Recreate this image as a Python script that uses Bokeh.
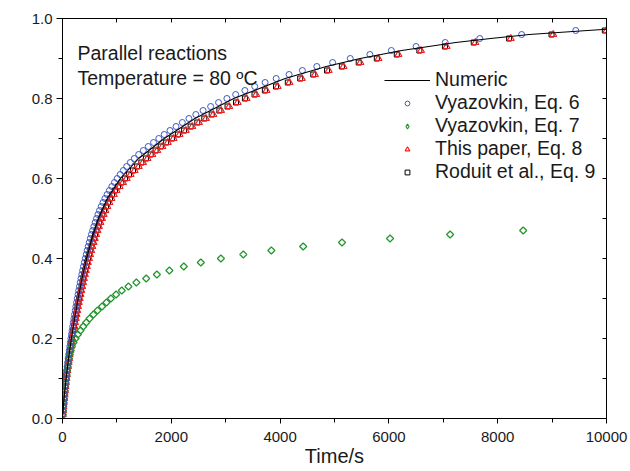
import math
import numpy as np
from bokeh.plotting import figure
from bokeh.models import (Range1d, LinearAxis, SingleIntervalTicker, NumeralTickFormatter,
                          CustomJSTickFormatter, Label, Legend, LegendItem, ColumnDataSource)
from bokeh.embed import file_html
from bokeh.resources import INLINE

# ---------------- data ----------------
alpha_levels = [0.01, 0.02, 0.03, 0.04, 0.05, 0.06, 0.07, 0.08, 0.09, 0.10,
                0.11, 0.12, 0.13, 0.14, 0.15, 0.16, 0.17, 0.18, 0.19, 0.20,
                0.21, 0.22, 0.23, 0.24, 0.25, 0.26, 0.27, 0.28, 0.29, 0.30,
                0.31, 0.32, 0.33, 0.34, 0.35, 0.36, 0.37, 0.38, 0.39, 0.40,
                0.41, 0.42, 0.43, 0.44, 0.45, 0.46, 0.47, 0.48, 0.49, 0.50,
                0.51, 0.52, 0.53, 0.54, 0.55, 0.56, 0.57, 0.58, 0.59, 0.60,
                0.61, 0.62, 0.63, 0.64, 0.65, 0.66, 0.67, 0.68, 0.69, 0.70,
                0.71, 0.72, 0.73, 0.74, 0.75, 0.76, 0.77, 0.78, 0.79, 0.80,
                0.81, 0.82, 0.83, 0.84, 0.85, 0.86, 0.87, 0.88, 0.89, 0.90,
                0.91, 0.92, 0.93, 0.94, 0.95, 0.96, 0.97]

alpha_eq7 = [0.01, 0.02, 0.03, 0.04, 0.05, 0.06, 0.07, 0.08, 0.09, 0.10,
             0.11, 0.12, 0.13, 0.14, 0.15, 0.16, 0.17, 0.18, 0.19, 0.20,
             0.21, 0.22, 0.23, 0.24, 0.25, 0.26, 0.27, 0.28, 0.29, 0.30,
             0.31, 0.32, 0.33, 0.34, 0.35, 0.36, 0.37, 0.38, 0.39, 0.40,
             0.41, 0.42, 0.43, 0.44, 0.45, 0.46, 0.47]

t_vyaz_eq6 = [5, 10, 15, 21, 27, 33, 40, 47, 54, 62,
              70, 78, 87, 96, 105, 114, 124, 134, 144, 154,
              165, 176, 187, 198, 210, 222, 234, 246, 259, 272,
              285, 298, 312, 326, 340, 355, 370, 386, 402, 419,
              436, 454, 472, 491, 511, 532, 554, 577, 601, 626,
              652, 681, 712, 745, 781, 820, 862, 907, 955, 1006,
              1060, 1118, 1180, 1247, 1320, 1400, 1486, 1577, 1674, 1770,
              1870, 1976, 2087, 2203, 2324, 2451, 2584, 2723, 2869, 3022,
              3183, 3353, 3533, 3724, 3928, 4165, 4410, 4675, 4965, 5290,
              5650, 6045, 6500, 7035, 7670, 8440, 9435]

t_vyaz_eq7 = [5, 10, 15, 21, 27, 34, 41, 48, 56, 66,
              75, 85, 96, 108, 121, 135, 152, 174, 203, 240,
              283, 331, 381, 437, 499, 568, 644, 727, 808, 890,
              985, 1090, 1212, 1358, 1538, 1735, 1965, 2230, 2543, 2912,
              3324, 3839, 4424, 5138, 6021, 7125, 8468]

t_paper_eq8 = [6, 12, 17, 24, 31, 38, 46, 55, 63, 72,
               81, 90, 101, 111, 122, 132, 144, 155, 167, 179,
               191, 204, 217, 230, 244, 258, 271, 285, 300, 316,
               331, 346, 362, 378, 394, 412, 429, 448, 466, 486,
               506, 527, 548, 570, 593, 617, 643, 669, 697, 726,
               756, 789, 824, 861, 900, 942, 993, 1050, 1112, 1180,
               1252, 1326, 1402, 1480, 1563, 1650, 1741, 1836, 1936, 2041,
               2151, 2266, 2385, 2508, 2637, 2772, 2914, 3064, 3220, 3383,
               3560, 3750, 3955, 4172, 4400, 4640, 4893, 5165, 5475, 5808,
               6175, 6590, 7060, 7590, 8240, 9020, 10000]

t_roduit_eq9 = [6, 12, 16, 23, 30, 37, 45, 53, 61, 70,
                79, 87, 98, 108, 118, 128, 140, 150, 162, 174,
                185, 198, 210, 223, 237, 250, 263, 276, 291, 307,
                321, 336, 351, 367, 382, 400, 416, 435, 452, 471,
                491, 511, 532, 553, 575, 598, 624, 649, 676, 704,
                733, 765, 799, 835, 873, 912, 963, 1020, 1082, 1150,
                1222, 1296, 1372, 1450, 1533, 1620, 1711, 1806, 1906, 2011,
                2121, 2236, 2355, 2478, 2607, 2742, 2884, 3034, 3190, 3353,
                3530, 3720, 3925, 4142, 4370, 4610, 4863, 5135, 5445, 5778,
                6145, 6560, 7030, 7560, 8210, 8990, 9970]

t_numeric = [0, 28, 66, 111, 163, 222, 288, 359, 443, 540, 661, 825, 1065, 1400,
             1870, 2434, 3148, 4093, 4847, 5471, 6236, 7229, 7870, 8580, 9650, 10000]
alpha_numeric = [0.0, 0.05, 0.10, 0.15, 0.20, 0.25, 0.30, 0.35, 0.40, 0.45, 0.50, 0.55,
                 0.60, 0.65, 0.70, 0.75, 0.80, 0.85, 0.88, 0.90, 0.92, 0.94, 0.95,
                 0.96, 0.97, 0.973]

legend_labels = ["Numeric", "Vyazovkin, Eq. 6", "Vyazovkin, Eq. 7",
                 "This paper, Eq. 8", "Roduit et al., Eq. 9"]
annot_lines = ["Parallel reactions", "Temperature = 80 \u00baC"]

# ---------------- style ----------------
FONT = "Liberation Sans"
BLUE = "#3b56c6"
GREEN = "#22962a"
RED = "#ec2020"
BLACK = "#000000"
TXT = "#1a1a1a"

p = figure(width=630, height=471, output_backend="svg", toolbar_location=None,
           x_range=Range1d(0, 10000), y_range=Range1d(0, 1.0),
           min_border_left=62, min_border_right=24, min_border_top=18,
           min_border_bottom=53)
p.grid.visible = False
p.outline_line_color = BLACK
p.outline_line_width = 1
p.background_fill_color = "white"
p.border_fill_color = "white"

# bottom axis
xa = p.xaxis[0]
xa.ticker = SingleIntervalTicker(interval=2000, num_minor_ticks=2)
xa.formatter = NumeralTickFormatter(format="0")
xa.axis_label = "Time/s"
xa.axis_label_text_font = FONT
xa.axis_label_text_font_size = "20px"
xa.axis_label_text_font_style = "normal"
xa.axis_label_text_color = TXT
xa.axis_label_standoff = 0
xa.major_label_text_font = FONT
xa.major_label_text_font_size = "15px"
xa.major_label_text_color = TXT
xa.major_label_standoff = 8
xa.major_tick_in = 0
xa.major_tick_out = 5
xa.minor_tick_in = 0
xa.minor_tick_out = 4
xa.axis_line_color = BLACK
xa.major_tick_line_color = BLACK
xa.minor_tick_line_color = BLACK

# left axis
ya = p.yaxis[0]
ya.ticker = SingleIntervalTicker(interval=0.2, num_minor_ticks=2)
ya.formatter = NumeralTickFormatter(format="0.0")
ya.major_label_text_font = FONT
ya.major_label_text_font_size = "15px"
ya.major_label_text_color = TXT
ya.major_label_standoff = 4
ya.major_tick_in = 0
ya.major_tick_out = 6
ya.minor_tick_in = 0
ya.minor_tick_out = 4
ya.axis_line_color = BLACK
ya.major_tick_line_color = BLACK
ya.minor_tick_line_color = BLACK

blank = CustomJSTickFormatter(code="return ''")
top = LinearAxis(ticker=SingleIntervalTicker(interval=1000, num_minor_ticks=0),
                 formatter=blank, major_tick_in=4, major_tick_out=0,
                 minor_tick_in=0, minor_tick_out=0, major_label_standoff=0,
                 axis_line_color=BLACK, major_tick_line_color=BLACK)
right = LinearAxis(ticker=SingleIntervalTicker(interval=0.1, num_minor_ticks=0),
                   formatter=blank, major_tick_in=4, major_tick_out=0,
                   minor_tick_in=0, minor_tick_out=0, major_label_standoff=0,
                   axis_line_color=BLACK, major_tick_line_color=BLACK)
p.add_layout(top, "above")
p.add_layout(right, "right")

# ---------------- glyphs ----------------
r_sq = p.scatter(t_roduit_eq9, alpha_levels, marker="square", size=5,
                 fill_color=None, line_color=BLACK, line_width=1)
r_tri = p.scatter(t_paper_eq8, alpha_levels, marker="triangle", size=7,
                  fill_color=None, line_color=RED, line_width=1.2)
r_dia = p.scatter(t_vyaz_eq7, alpha_eq7, marker="square", angle=math.pi / 4, size=5,
                  fill_color=None, line_color=GREEN, line_width=1.2)
r_cir = p.scatter(t_vyaz_eq6, alpha_levels, marker="circle", size=6,
                  fill_color=None, line_color=BLUE, line_width=1)
r_line = p.line(t_numeric, alpha_numeric, line_color=BLACK, line_width=1.1)

# legend proxies (no visible points)
def proxy():
    return ColumnDataSource(dict(x=np.array([np.nan]), y=np.array([np.nan])))

l_line = p.line(x="x", y="y", source=proxy(), line_color=BLACK, line_width=1.1)
l_cir = p.scatter(x="x", y="y", source=proxy(), marker="circle",
                  fill_color=None, line_color=BLUE, line_width=1)
l_dia = p.scatter(x="x", y="y", source=proxy(), marker="diamond",
                  fill_color=None, line_color=GREEN, line_width=1.1)
l_tri = p.scatter(x="x", y="y", source=proxy(), marker="triangle",
                  fill_color=None, line_color=RED, line_width=1.1)
l_sq = p.scatter(x="x", y="y", source=proxy(), marker="square",
                 fill_color=None, line_color=BLACK, line_width=1)

legend = Legend(items=[LegendItem(label=legend_labels[0], renderers=[l_line]),
                       LegendItem(label=legend_labels[1], renderers=[l_cir]),
                       LegendItem(label=legend_labels[2], renderers=[l_dia]),
                       LegendItem(label=legend_labels[3], renderers=[l_tri]),
                       LegendItem(label=legend_labels[4], renderers=[l_sq])],
                location=(322, 235), orientation="vertical",
                glyph_width=46, glyph_height=12, label_height=23, label_standoff=5,
                spacing=0, padding=0, margin=0,
                border_line_color=None, background_fill_alpha=0,
                label_text_font=FONT, label_text_font_size="19.5px",
                label_text_color=TXT, label_text_baseline="middle")
p.add_layout(legend, "center")

# annotation text
p.add_layout(Label(x=276, y=0.915, text=annot_lines[0], text_font=FONT,
                   text_font_size="19.5px", text_color=TXT, text_baseline="alphabetic"))
p.add_layout(Label(x=276, y=0.8525, text=annot_lines[1], text_font=FONT,
                   text_font_size="19.5px", text_color=TXT, text_baseline="alphabetic"))

# y axis title (alpha)
p.add_layout(Label(x=-405, y=0.5075, text="\u03b1", text_font="Liberation Serif",
                   text_font_style="italic", text_font_size="21px", text_color=TXT,
                   angle=math.pi / 2, text_align="center", text_baseline="middle"))

open("out.html", "w").write(file_html(p, INLINE))
